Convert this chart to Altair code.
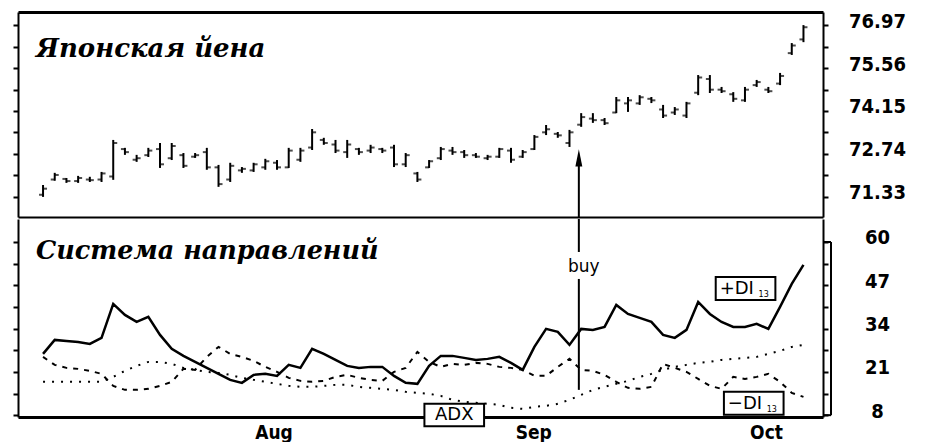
import json
import altair as alt
import pandas as pd

# ---------------- data ----------------
days = list(range(66))
high = [71.72, 72.12, 71.95, 72.02, 71.99, 72.15, 73.20, 72.94, 72.71, 72.94,
        73.10, 73.10, 72.77, 72.77, 72.94, 72.38, 72.45, 72.31, 72.45, 72.58,
        72.54, 72.94, 72.94, 73.56, 73.27, 73.20, 73.20, 72.94, 73.04, 72.94,
        73.04, 72.77, 72.15, 72.54, 72.97, 72.97, 72.87, 72.77, 72.71, 72.94,
        72.94, 72.87, 73.36, 73.69, 73.46, 73.53, 74.08, 74.08, 73.92, 74.61,
        74.61, 74.67, 74.61, 74.35, 74.28, 74.45, 75.33, 75.33, 74.94, 74.77,
        74.94, 75.17, 74.94, 75.40, 76.38, 76.97]
low = [71.33, 71.86, 71.79, 71.79, 71.82, 71.82, 71.89, 72.71, 72.48, 72.64,
       72.28, 72.54, 72.28, 72.61, 72.22, 71.66, 71.82, 72.12, 72.15, 72.22,
       72.22, 72.28, 72.48, 72.87, 73.04, 72.77, 72.61, 72.71, 72.77, 72.77,
       72.31, 72.31, 71.82, 72.28, 72.54, 72.71, 72.61, 72.61, 72.54, 72.61,
       72.45, 72.61, 72.87, 73.36, 73.27, 72.97, 73.63, 73.76, 73.69, 74.08,
       74.12, 74.35, 74.41, 73.92, 74.02, 73.92, 74.67, 74.74, 74.74, 74.45,
       74.45, 74.94, 74.74, 75.00, 75.99, 76.41]
opens = [71.40, 71.90, 71.92, 71.85, 71.90, 71.90, 72.00, 72.90, 72.55, 72.70,
         72.90, 72.60, 72.70, 72.65, 72.80, 72.30, 71.90, 72.20, 72.20, 72.30,
         72.45, 72.30, 72.55, 72.95, 73.20, 73.05, 72.80, 72.90, 72.85, 72.90,
         72.95, 72.40, 72.10, 72.30, 72.60, 72.85, 72.80, 72.70, 72.60, 72.65,
         72.85, 72.65, 72.90, 73.45, 73.40, 73.10, 73.70, 73.90, 73.85, 74.10,
         74.40, 74.40, 74.55, 74.20, 74.10, 74.00, 74.75, 75.20, 74.85, 74.70,
         74.50, 75.00, 74.85, 75.05, 76.05, 76.50]
closes = [71.60, 72.05, 71.85, 71.95, 71.88, 72.10, 73.10, 72.80, 72.60, 72.85,
          72.40, 73.00, 72.35, 72.70, 72.30, 71.75, 72.35, 72.25, 72.40, 72.50,
          72.30, 72.85, 72.85, 73.45, 73.10, 72.85, 73.05, 72.80, 72.95, 72.85,
          72.40, 72.70, 71.90, 72.50, 72.90, 72.80, 72.70, 72.65, 72.65, 72.90,
          72.55, 72.80, 73.30, 73.55, 73.35, 73.45, 73.95, 73.85, 73.75, 74.50,
          74.50, 74.60, 74.50, 74.00, 74.20, 74.40, 75.25, 74.85, 74.80, 74.55,
          74.85, 75.10, 74.80, 75.30, 76.30, 76.90]
plus_di = [26.4, 30.6, 30.3, 30.0, 29.4, 31.2, 41.4, 38.1, 36.0, 37.5,
           32.1, 27.9, 25.8, 24.0, 22.2, 20.4, 18.6, 17.7, 20.1, 20.4,
           19.8, 23.1, 22.2, 27.9, 26.4, 24.6, 22.8, 22.2, 22.5, 22.5,
           19.8, 17.7, 17.4, 22.8, 25.8, 25.8, 25.2, 24.6, 24.9, 25.5,
           23.7, 21.6, 28.5, 33.9, 33.0, 29.1, 33.9, 33.6, 34.5, 41.1,
           38.4, 37.2, 36.0, 32.1, 31.2, 33.6, 42.0, 38.4, 36.0, 34.5,
           34.5, 35.4, 33.9, 40.5, 47.4, 53.1]
minus_di = [25.5, 23.1, 22.2, 21.9, 21.3, 20.4, 16.8, 15.6, 15.6, 15.9,
            16.8, 18.0, 21.9, 21.6, 25.5, 28.5, 26.4, 25.5, 24.3, 22.5,
            21.0, 19.2, 18.3, 18.0, 18.3, 19.5, 20.1, 19.2, 18.6, 18.3,
            21.0, 22.2, 27.0, 24.0, 22.5, 23.4, 23.1, 23.7, 23.4, 22.5,
            22.2, 21.6, 19.8, 19.8, 22.5, 24.9, 21.6, 21.3, 20.1, 18.0,
            16.2, 15.9, 16.5, 23.4, 22.2, 21.0, 18.9, 16.8, 15.9, 19.5,
            18.9, 19.5, 20.4, 18.0, 14.7, 13.5]
adx = [18.0, 18.0, 18.0, 18.0, 18.0, 18.0, 19.5, 21.3, 22.8, 24.0,
       24.0, 23.4, 22.2, 21.6, 21.0, 20.7, 20.1, 19.2, 18.6, 18.0,
       17.4, 16.8, 16.5, 16.5, 16.8, 17.1, 17.1, 16.5, 16.2, 15.9,
       15.6, 15.0, 14.7, 14.4, 13.8, 12.6, 12.0, 11.7, 11.4, 11.1,
       10.2, 9.9, 10.5, 10.8, 11.4, 12.6, 14.1, 15.6, 16.5, 17.4,
       18.3, 19.5, 20.4, 21.6, 22.5, 23.1, 23.7, 24.0, 24.6, 24.9,
       25.2, 25.5, 26.4, 27.3, 28.5, 29.1]

price_ticks = [71.33, 72.035, 72.74, 73.445, 74.15, 74.855, 75.56, 76.265, 76.97]
price_labels = [71.33, 72.74, 74.15, 75.56, 76.97]
ind_ticks = [8, 14.5, 21, 27.5, 34, 40.5, 47, 53.5, 60]
ind_labels = [8, 21, 34, 47, 60]
month_names = ["Aug", "Sep", "Oct"]
month_pos = [19.7, 41.9, 61.8]

title_top = "Японская йена"
title_bottom = "Система направлений"

# annotation anchors (data coordinates)
buy_day = 45.8
buy_tip = 72.61
box_plus = {"x": 57.5, "x2": 62.6, "y": 49.5, "y2": 42.6, "tx": 59.3, "ty": 45.9, "sx": 61.6, "sy": 44.0, "t": "+DI"}
box_minus = {"x": 58.2, "x2": 63.3, "y": 15.0, "y2": 8.1, "tx": 60.0, "ty": 11.4, "sx": 62.3, "sy": 9.6, "t": "−DI"}
box_adx = {"x": 32.6, "x2": 37.7, "y": 11.4, "y2": 4.7, "tx": 35.15, "ty": 8.0, "t": "ADX"}

# ---------------- chart ----------------
W, H_TOP, H_BOT = 805, 205, 198
xs = alt.Scale(domain=[-2.14, 66.67], nice=False, zero=False)
ps = alt.Scale(domain=[70.67, 77.40], nice=False, zero=False)
iscale = alt.Scale(domain=[7.45, 66.9], nice=False, zero=False)

NUMFONT = "Liberation Sans Narrow, DejaVu Sans Condensed, DejaVu Sans Mono"


def lab_expr(vals, fmt):
    cond = " || ".join("abs(datum.value - %s) < 0.001" % v for v in vals)
    return "(%s) ? format(datum.value, '%s') : ''" % (cond, fmt)


def left_axis(vals):
    return alt.Axis(orient="left", values=vals, labels=False, tickSize=5, tickWidth=2,
                    domainWidth=2, grid=False, title=None, minExtent=0)


def right_axis(vals, expr):
    return alt.Axis(orient="right", values=vals, labelExpr=expr, tickSize=5, tickWidth=2,
                    domainWidth=2, grid=False, title=None, labelPadding=49, labelAlign="center",
                    labelBaseline="middle", labelOffset=-4, labelFont=NUMFONT, labelFontSize=20,
                    labelFontWeight="bold", labelOverlap=False, labelFlush=False, minExtent=0)


top_frame = alt.Axis(orient="top", labels=False, ticks=False, domainWidth=3, grid=False, title=None)
sep_frame = alt.Axis(orient="bottom", labels=False, ticks=False, domainWidth=2, grid=False, title=None)
month_expr = " : ".join("abs(datum.value - %s) < 0.01 ? '%s'" % (p, n) for p, n in zip(month_pos, month_names)) + " : ''"
bottom_frame = alt.Axis(orient="bottom", values=month_pos, labelExpr=month_expr, ticks=False, domainWidth=3,
                        grid=False, title=None, labelFont=NUMFONT, labelFontSize=19, labelFontWeight="bold",
                        labelPadding=6, labelFlush=False, labelOverlap=False)

price_df = pd.DataFrame({"day": days, "high": high, "low": low, "open": opens, "close": closes})
pb = alt.Chart(price_df)

bars = pb.mark_rule(color="black", strokeWidth=2).encode(
    x=alt.X("day:Q", scale=xs, axis=top_frame),
    y=alt.Y("low:Q", scale=ps, axis=left_axis(price_ticks)),
    y2="high:Q")
close_t = pb.mark_tick(orient="horizontal", size=4, thickness=2, xOffset=2, color="black").encode(
    x=alt.X("day:Q", scale=xs, axis=sep_frame),
    y=alt.Y("close:Q", scale=ps, axis=right_axis(price_ticks, lab_expr(price_labels, ".2f"))))
open_t = pb.mark_tick(orient="horizontal", size=4, thickness=2, xOffset=-2, color="black").encode(
    x=alt.X("day:Q", scale=xs, axis=None),
    y=alt.Y("open:Q", scale=ps, axis=None))

ttl_top = alt.Chart(pd.DataFrame({"t": [title_top]})).mark_text(
    font="DejaVu Serif", fontStyle="italic", fontWeight="bold", fontSize=26, align="left",
    baseline="alphabetic", color="black").encode(x=alt.value(18), y=alt.value(45), text="t:N")

arrow_df = pd.DataFrame({"d": [buy_day], "tip": [buy_tip], "base": [70.67]})
arrow_rule = alt.Chart(arrow_df).mark_rule(color="black", strokeWidth=2).encode(
    x=alt.X("d:Q", scale=xs, axis=None), y=alt.Y("tip:Q", scale=ps, axis=None), y2="base:Q")
arrow_head = alt.Chart(arrow_df).mark_point(shape="M0,-1L0.4,1L-0.4,1Z", size=300, filled=True,
                                             color="black", opacity=1).encode(
    x=alt.X("d:Q", scale=xs, axis=None), y=alt.Y("tip:Q", scale=ps, axis=None))

top = alt.layer(bars, close_t, open_t, ttl_top, arrow_rule, arrow_head).resolve_axis(
    x="independent", y="independent").properties(width=W, height=H_TOP)

ind_df = pd.DataFrame({"day": days, "plus": plus_di, "minus": minus_di, "adx": adx})
ib = alt.Chart(ind_df)
plus_line = ib.mark_line(color="black", strokeWidth=2.5).encode(
    x=alt.X("day:Q", scale=xs, axis=bottom_frame),
    y=alt.Y("plus:Q", scale=iscale, axis=left_axis(ind_ticks)))
minus_line = ib.mark_line(color="black", strokeWidth=2, strokeDash=[5, 6]).encode(
    x=alt.X("day:Q", scale=xs, axis=None),
    y=alt.Y("minus:Q", scale=iscale, axis=right_axis(ind_ticks, lab_expr(ind_labels, "d"))))
adx_line = ib.mark_line(color="black", strokeWidth=2, strokeDash=[2, 7]).encode(
    x=alt.X("day:Q", scale=xs, axis=None),
    y=alt.Y("adx:Q", scale=iscale, axis=None))

buy_df = pd.DataFrame({"d": [buy_day, buy_day], "a": [66.9, 48.9], "b": [57.0, 15.6]})
buy_rules = alt.Chart(buy_df).mark_rule(color="black", strokeWidth=2).encode(
    x=alt.X("d:Q", scale=xs, axis=None), y=alt.Y("a:Q", scale=iscale, axis=None), y2="b:Q")
buy_txt = alt.Chart(pd.DataFrame({"d": [buy_day], "v": [52.5], "t": ["buy"]})).mark_text(
    font="DejaVu Sans", fontSize=17, dx=5, baseline="middle", color="black").encode(
    x=alt.X("d:Q", scale=xs, axis=None), y=alt.Y("v:Q", scale=iscale, axis=None), text="t:N")

boxes_df = pd.DataFrame([box_plus, box_minus, box_adx])
boxes = alt.Chart(boxes_df).mark_rect(fill="white", stroke="black", strokeWidth=2).encode(
    x=alt.X("x:Q", scale=xs, axis=None), x2="x2:Q",
    y=alt.Y("y:Q", scale=iscale, axis=None), y2="y2:Q")
box_txt = alt.Chart(boxes_df).mark_text(font="DejaVu Sans", fontSize=18, baseline="middle",
                                        color="black").encode(
    x=alt.X("tx:Q", scale=xs, axis=None), y=alt.Y("ty:Q", scale=iscale, axis=None), text="t:N")
sub_df = pd.DataFrame([box_plus, box_minus]).assign(s="13")
sub_txt = alt.Chart(sub_df).mark_text(font="DejaVu Sans", fontSize=8, baseline="middle",
                                      color="black").encode(
    x=alt.X("sx:Q", scale=xs, axis=None), y=alt.Y("sy:Q", scale=iscale, axis=None), text="s:N")

br_df = pd.DataFrame({"a": [ind_ticks[-1]], "b": [ind_ticks[0]]})
bracket = alt.Chart(br_df).mark_rule(color="black", strokeWidth=2).encode(
    x=alt.value(W + 8), y=alt.Y("a:Q", scale=iscale, axis=None), y2="b:Q")
cap_top = alt.Chart(br_df).mark_rule(color="black", strokeWidth=2).encode(
    x=alt.value(W), x2=alt.value(W + 8), y=alt.Y("a:Q", scale=iscale, axis=None))
cap_bot = alt.Chart(br_df).mark_rule(color="black", strokeWidth=2).encode(
    x=alt.value(W), x2=alt.value(W + 8), y=alt.Y("b:Q", scale=iscale, axis=None))

ttl_bot = alt.Chart(pd.DataFrame({"t": [title_bottom]})).mark_text(
    font="DejaVu Serif", fontStyle="italic", fontWeight="bold", fontSize=25.5, align="left",
    baseline="alphabetic", color="black").encode(x=alt.value(18), y=alt.value(40), text="t:N")

bottom = alt.layer(plus_line, minus_line, adx_line, buy_rules, buy_txt, boxes, box_txt, sub_txt,
                   bracket, cap_top, cap_bot, ttl_bot).resolve_axis(
    x="independent", y="independent").properties(width=W, height=H_BOT)

chart = alt.vconcat(top, bottom, spacing=0).properties(
    padding={"left": 4, "top": 3, "right": 0, "bottom": 0}
).configure_view(stroke=None).configure_axis(
    domainColor="black", tickColor="black", labelColor="black")

chart.save("out.html", embed_options={"renderer": "svg", "actions": False})
